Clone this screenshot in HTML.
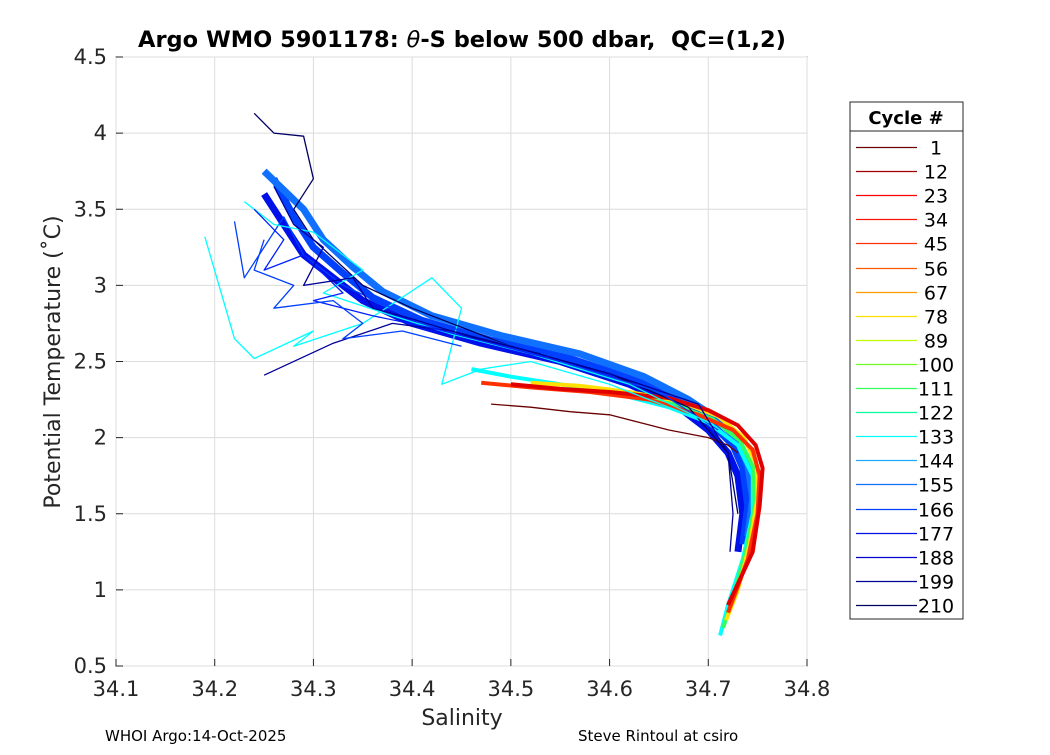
<!DOCTYPE html>
<html><head><meta charset="utf-8"><style>
body{margin:0;background:#fff;font-family:"Liberation Sans","DejaVu Sans",sans-serif}
svg text{font-family:"DejaVu Sans","Liberation Sans",sans-serif}
</style></head><body>
<svg id="c" width="1050" height="750" viewBox="0 0 1050 750">
<rect width="1050" height="750" fill="#fff"/>
<rect x="116" y="57" width="691" height="609" fill="#fff" stroke="#262626" stroke-width="1"/>
<g id="grid"></g><g id="profiles"></g><g id="axes"></g>
<text x="462" y="47" text-anchor="middle" font-size="22.5" font-weight="bold" fill="#000">Argo WMO 5901178: <tspan font-style="italic" font-weight="normal">θ</tspan>-S below 500 dbar,&#160; QC=(1,2)</text>
<text x="462" y="725" text-anchor="middle" font-size="22" fill="#262626">Salinity</text>
<text transform="translate(60,362) rotate(-90)" text-anchor="middle" font-size="22" fill="#262626">Potential Temperature (˚C)</text>
<text x="105" y="741" font-size="15" fill="#000">WHOI Argo:14-Oct-2025</text>
<text x="578" y="741" font-size="15" fill="#000">Steve Rintoul at csiro</text>
<g>
<rect x="850" y="102" width="113" height="517" fill="#fff" stroke="#262626"/>
<line x1="850" y1="131" x2="963" y2="131" stroke="#262626"/>
<text x="906" y="124" text-anchor="middle" font-size="18" font-weight="bold">Cycle #</text>
<g id="leg"></g></g>
</svg>
<script>
const xTicks=[34.1,34.2,34.3,34.4,34.5,34.6,34.7,34.8];
const yTicks=[0.5,1,1.5,2,2.5,3,3.5,4,4.5];
const cycles=[1,12,23,34,45,56,67,78,89,100,111,122,133,144,155,166,177,188,199,210];
const cycleColors=["#6a0000","#a00000","#ff0000","#ff1500","#ff3000","#ff5a00","#ff9a00","#ffe000","#c0ff00","#70ff20","#30ff60","#00ff9a","#00ffff","#20a8ff","#1070ff","#0040ff","#0010e8","#0000d0","#000098","#000060"];
const profileColors=["#0010e8","#0040ff","#1070ff","#00ffff","#30ff60","#ffe000","#ff3000","#e00000","#6a0000","#00ffff","#000060","#0040ff","#00ffff","#000098","#0020ff","#000098","#0040ff"];
const profileSal=[
[34.73,34.735,34.73,34.72,34.70,34.67,34.62,34.55,34.47,34.40,34.35,34.32,34.29,34.27,34.25],
[34.735,34.74,34.735,34.725,34.705,34.675,34.63,34.56,34.48,34.41,34.36,34.33,34.30,34.28,34.26],
[34.74,34.745,34.74,34.73,34.71,34.68,34.635,34.57,34.49,34.42,34.37,34.34,34.31,34.29,34.25],
[34.712,34.72,34.735,34.745,34.745,34.73,34.70,34.66,34.60,34.55,34.50,34.46],
[34.715,34.725,34.738,34.747,34.746,34.732,34.705,34.665,34.61,34.56],
[34.718,34.73,34.742,34.75,34.749,34.736,34.71,34.67,34.62,34.57,34.52],
[34.72,34.74,34.75,34.752,34.745,34.725,34.69,34.64,34.58,34.52,34.47],
[34.72,34.745,34.752,34.755,34.748,34.73,34.70,34.66,34.60,34.55,34.50],
[34.73,34.72,34.70,34.66,34.63,34.60,34.56,34.52,34.48],
[34.19,34.22,34.24,34.30,34.28,34.35,34.42,34.45,34.43,34.47,34.52,34.60,34.68],
[34.24,34.26,34.29,34.30,34.28,34.30,34.35,34.40,34.50,34.60,34.68,34.72,34.73],
[34.22,34.23,34.27,34.29,34.33,34.38,34.45,34.55,34.65,34.71],
[34.23,34.26,34.30,34.35,34.31,34.38,34.44,34.52,34.62,34.70],
[34.25,34.32,34.38,34.44,34.50,34.6,34.69,34.72,34.725,34.722],
[34.24,34.27,34.25,34.29,34.33,34.30,34.36,34.42,34.48,34.55],
[34.26,34.28,34.31,34.29,34.34,34.36,34.40,34.46,34.53],
[34.25,34.24,34.28,34.26,34.32,34.35,34.33,34.39,34.45]
];
const profileTheta=[
[1.25,1.5,1.75,1.9,2.05,2.2,2.35,2.5,2.62,2.75,2.9,3.05,3.2,3.4,3.6],
[1.3,1.55,1.8,1.95,2.08,2.22,2.37,2.52,2.64,2.77,2.92,3.08,3.25,3.45,3.7],
[1.35,1.6,1.82,1.98,2.12,2.25,2.4,2.55,2.67,2.8,2.96,3.12,3.3,3.5,3.75],
[0.7,0.9,1.2,1.5,1.75,1.95,2.1,2.2,2.3,2.35,2.4,2.45],
[0.75,0.95,1.25,1.55,1.8,1.98,2.12,2.22,2.3,2.34],
[0.8,1.0,1.3,1.6,1.82,2.0,2.14,2.24,2.3,2.34,2.36],
[0.85,1.2,1.5,1.75,1.92,2.05,2.15,2.25,2.3,2.33,2.36],
[0.9,1.25,1.55,1.8,1.95,2.08,2.18,2.26,2.3,2.32,2.35],
[1.9,1.95,2.0,2.05,2.1,2.15,2.17,2.2,2.22],
[3.32,2.65,2.52,2.7,2.6,2.75,3.05,2.85,2.35,2.45,2.5,2.35,2.15],
[4.13,4.0,3.98,3.7,3.5,3.3,3.0,2.85,2.6,2.42,2.2,1.9,1.5],
[3.42,3.05,3.45,3.2,3.0,2.85,2.7,2.5,2.3,2.05],
[3.55,3.4,3.35,3.1,2.95,2.8,2.68,2.55,2.35,2.1],
[2.41,2.62,2.75,2.7,2.6,2.42,2.22,1.9,1.5,1.25],
[3.5,3.3,3.1,3.2,2.95,2.9,2.8,2.72,2.62,2.5],
[3.65,3.4,3.25,3.0,3.05,2.85,2.78,2.66,2.55],
[3.3,3.1,3.0,2.85,2.9,2.75,2.65,2.7,2.6]
];
const NS="http://www.w3.org/2000/svg";
const sx=s=>116+(s-34.1)/0.7*691;
const ty=t=>666-(t-0.5)/4*609;
function mk(tag,at,parent){const e=document.createElementNS(NS,tag);for(const k in at)e.setAttribute(k,at[k]);parent.appendChild(e);return e;}
const grid=document.getElementById('grid'),axes=document.getElementById('axes');
xTicks.forEach(v=>{const x=sx(v);
 const g=mk('line',{x1:x,x2:x,y1:57,y2:666,stroke:'#dcdcdc'},grid);
 
 
 mk('line',{x1:x,x2:x,y1:666,y2:659,stroke:'#262626'},axes);
 const t=mk('text',{x:x,y:696,'text-anchor':'middle','font-size':'21',fill:'#262626'},axes);t.textContent=v.toFixed(1);
 
 });
yTicks.forEach(v=>{const y=ty(v);
 const g=mk('line',{x1:116,x2:807,y1:y,y2:y,stroke:'#dcdcdc'},grid);
 
 
 mk('line',{x1:116,x2:123,y1:y,y2:y,stroke:'#262626'},axes);
 const t=mk('text',{x:107,y:y+7,'text-anchor':'end','font-size':'21',fill:'#262626'},axes);t.textContent=String(v);
 
 });
const pg=document.getElementById('profiles');
profileSal.forEach((sal,i)=>{
 const pts=sal.map((s,j)=>sx(s).toFixed(1)+','+ty(profileTheta[i][j]).toFixed(1)).join(' ');
 const w=i<3?7:(i<8?4:1.3);
 const p=mk('polyline',{points:pts,fill:'none',stroke:profileColors[i],'stroke-width':w,'stroke-linejoin':'round'},pg);
 
 });
const leg=document.getElementById('leg');
cycles.forEach((c,i)=>{const y=Math.round(147+i*24.1)+0.5;
 const l=mk('line',{x1:856,x2:917,y1:y,y2:y,stroke:cycleColors[i],'stroke-width':1.3},leg);
 
 
 const t=mk('text',{x:936,y:y+7,'text-anchor':'middle','font-size':'19',fill:'#000'},leg);t.textContent=String(c);
 
 });
</script>
</body></html>
